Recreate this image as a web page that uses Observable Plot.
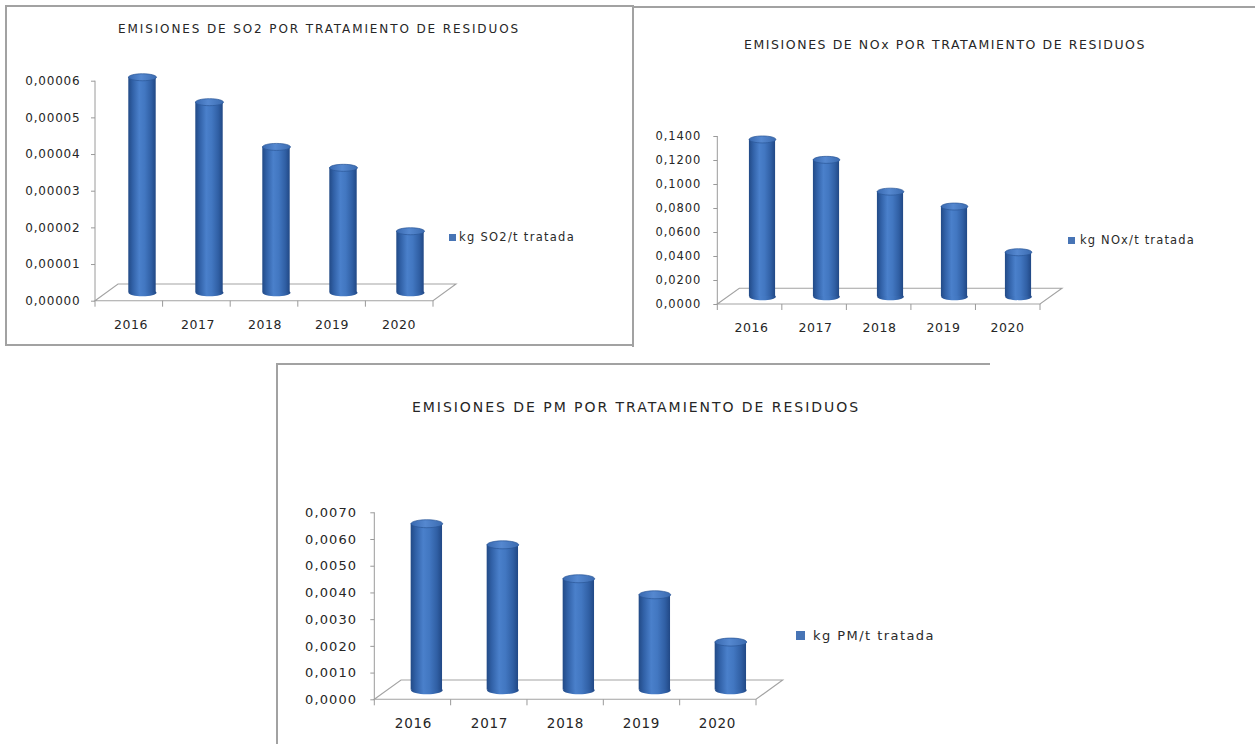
<!DOCTYPE html>
<html>
<head>
<meta charset="utf-8">
<script src="https://cdn.jsdelivr.net/npm/d3@7"></script>
<script src="https://cdn.jsdelivr.net/npm/@observablehq/plot@0.6"></script>
<style>
html, body { margin: 0; padding: 0; background: #fff; }
body { width: 1255px; height: 744px; position: relative; overflow: hidden; font-family: "DejaVu Sans", sans-serif; }
.frame { position: absolute; box-sizing: border-box; background: #fff; }
.title { position: absolute; white-space: nowrap; font-family: "DejaVu Sans", sans-serif; color: #262626; line-height: 1; }
.ltext { position: absolute; white-space: nowrap; font-family: "DejaVu Sans", sans-serif; color: #2a2a2a; line-height: 1; }
.sw { position: absolute; background: #4774b5; }
</style>
</head>
<body>
<script>
// ---------- data ----------
const years = ["2016", "2017", "2018", "2019", "2020"];

const so2Values = [0.0000588, 0.0000520, 0.0000398, 0.0000341, 0.0000168];
const noxValues = [0.1310, 0.1140, 0.0875, 0.0751, 0.0370];
const pmValues  = [0.00623, 0.00544, 0.00417, 0.00357, 0.00180];

const so2Ticks = [0, 0.00001, 0.00002, 0.00003, 0.00004, 0.00005, 0.00006];
const noxTicks = [0, 0.02, 0.04, 0.06, 0.08, 0.10, 0.12, 0.14];
const pmTicks  = [0, 0.001, 0.002, 0.003, 0.004, 0.005, 0.006, 0.007];

const so2Title = "EMISIONES DE SO2 POR TRATAMIENTO DE RESIDUOS";
const noxTitle = "EMISIONES DE NOx POR TRATAMIENTO DE RESIDUOS";
const pmTitle  = "EMISIONES DE PM POR TRATAMIENTO DE RESIDUOS";

const so2Legend = "kg SO2/t tratada";
const noxLegend = "kg NOx/t tratada";
const pmLegend  = "kg PM/t tratada";

// ---------- layout / style ----------
const charts = [
  {
    id: "c1", values: so2Values, ticks: so2Ticks, decimals: 5, title: so2Title, legend: so2Legend,
    frame: {left: 5, top: 5, width: 629, height: 341, sides: "all"},
    svg: {left: 8, top: 8, width: 624, height: 336, ml: 87, mr: 199, mt: 72.7, mb: 43.3},
    depth: {dx: 23, dy: -16.7}, barWidth: 28, ry: 3.5,
    tickFont: 12, tickLS: 0.8, tickPadding: 11,
    yearFont: 12.5, yearLS: 0.6, yearPadding: 19,
    titleBox: {left: 118, cy: 29, width: 402, font: 12},
    legendBox: {sx: 449, sy: 234, s: 7, tx: 459, cy: 238, width: 116, font: 11.5}
  },
  {
    id: "c2", values: noxValues, ticks: noxTicks, decimals: 4, title: noxTitle, legend: noxLegend,
    frame: {left: 632, top: 6, width: 640, height: 341, sides: "tl"},
    svg: {left: 634, top: 9, width: 621, height: 335, ml: 83.3, mr: 215, mt: 127, mb: 40},
    depth: {dx: 22, dy: -15.7}, barWidth: 26.7, ry: 3.5,
    tickFont: 11.5, tickLS: 0.9, tickPadding: 12.6,
    yearFont: 12.5, yearLS: 0.6, yearPadding: 19,
    titleBox: {left: 744, cy: 45, width: 402, font: 12.5},
    legendBox: {sx: 1068, sy: 237, s: 7.3, tx: 1080, cy: 241, width: 115, font: 11.5}
  },
  {
    id: "c3", values: pmValues, ticks: pmTicks, decimals: 4, title: pmTitle, legend: pmLegend,
    frame: {left: 276, top: 363, width: 714, height: 400, sides: "tl"},
    svg: {left: 279, top: 365, width: 711, height: 379, ml: 95.3, mr: 234, mt: 147.3, mb: 44.7},
    depth: {dx: 26.7, dy: -19.3}, barWidth: 31.7, ry: 4,
    tickFont: 13, tickLS: 1.1, tickPadding: 13.6,
    yearFont: 13.5, yearLS: 0.75, yearPadding: 18.7,
    titleBox: {left: 412, cy: 406.7, width: 448, font: 14},
    legendBox: {sx: 796, sy: 631, s: 8.5, tx: 813, cy: 635, width: 122, font: 13}
  }
];

// ---------- helpers ----------
function ellipseSymbol(rx, ry) {
  const k = 0.5523;
  return {
    draw(c) {
      c.moveTo(rx, 0);
      c.bezierCurveTo(rx, k * ry, k * rx, ry, 0, ry);
      c.bezierCurveTo(-k * rx, ry, -rx, k * ry, -rx, 0);
      c.bezierCurveTo(-rx, -k * ry, -k * rx, -ry, 0, -ry);
      c.bezierCurveTo(k * rx, -ry, rx, -k * ry, rx, 0);
      c.closePath();
    }
  };
}

function defsMark(id) {
  return () => {
    const defs = d3.create("svg:defs");
    const side = defs.append("linearGradient").attr("id", id).attr("x1", 0).attr("x2", 1).attr("y1", 0).attr("y2", 0);
    [[0, "#224a86"], [0.16, "#3161a7"], [0.4, "#4a80cb"], [0.6, "#4277c1"], [0.84, "#305fa4"], [1, "#214885"]]
      .forEach(([o, c]) => side.append("stop").attr("offset", o).attr("stop-color", c));
    const top = defs.append("linearGradient").attr("id", id + "t").attr("x1", 0).attr("x2", 1).attr("y1", 0).attr("y2", 0);
    [[0, "#3969b0"], [0.45, "#5588d0"], [1, "#3b6bb0"]]
      .forEach(([o, c]) => top.append("stop").attr("offset", o).attr("stop-color", c));
    return defs.node();
  };
}

function floorMark(cfg) {
  return (index, scales, values, dims) => {
    const {width, height, marginLeft, marginRight, marginBottom, marginTop} = dims;
    const x0 = marginLeft, x1 = width - marginRight;
    const y0 = height - marginBottom, yTop = marginTop;
    const {dx, dy} = cfg.depth;
    const g = d3.create("svg:g").attr("fill", "none");
    g.append("path")
      .attr("stroke", "#a3a3a3").attr("stroke-width", 1.1)
      .attr("d", `M${x0},${y0}L${x0 + dx},${y0 + dy}L${x1 + dx},${y0 + dy}L${x1},${y0}Z`);
    g.append("line").attr("stroke", "#9a9a9a")
      .attr("x1", x0).attr("x2", x0).attr("y1", y0).attr("y2", yTop);
    const n = years.length, step = (x1 - x0) / n;
    for (let i = 0; i <= n; i++) {
      g.append("line").attr("stroke", "#9a9a9a")
        .attr("x1", x0 + i * step).attr("x2", x0 + i * step)
        .attr("y1", y0).attr("y2", y0 + 6);
    }
    return g.node();
  };
}

function makeChart(cfg) {
  const data = years.map((year, i) => ({year, value: cfg.values[i]}));
  const s = cfg.svg;
  const step = (s.width - s.ml - s.mr) / years.length;
  const inset = (step - cfg.barWidth) / 2;
  const hx = cfg.depth.dx / 2, hy = cfg.depth.dy / 2;
  const sym = ellipseSymbol(cfg.barWidth / 2, cfg.ry);
  const fmt = d => d.toFixed(cfg.decimals).replace(".", ",");

  const plot = Plot.plot({
    width: s.width, height: s.height,
    marginLeft: s.ml, marginRight: s.mr, marginTop: s.mt, marginBottom: s.mb,
    style: {background: "transparent", fontFamily: "DejaVu Sans", overflow: "visible"},
    x: {type: "band", domain: years, padding: 0, label: null},
    y: {domain: [0, cfg.ticks[cfg.ticks.length - 1]], label: null},
    marks: [
      defsMark(cfg.id),
      floorMark(cfg),
      Plot.axisY({ticks: cfg.ticks, tickFormat: fmt, tickSize: 4, tickPadding: cfg.tickPadding,
                  stroke: "#9a9a9a", fill: "#262626", fontSize: cfg.tickFont, label: null}),
      Plot.axisX({tickSize: 0, tickPadding: cfg.yearPadding, fill: "#262626", fontSize: cfg.yearFont, label: null}),
      Plot.dot(data, {x: "year", y: () => 0, r: 5, symbol: sym, fill: `url(#${cfg.id})`, dx: hx, dy: hy}),
      Plot.barY(data, {x: "year", y: "value", fill: `url(#${cfg.id})`, insetLeft: inset, insetRight: inset, dx: hx, dy: hy}),
      Plot.dot(data, {x: "year", y: "value", r: 5, symbol: sym, fill: `url(#${cfg.id}t)`,
                      stroke: "#2a5696", strokeWidth: 0.7, dx: hx, dy: hy})
    ]
  });
  d3.select(plot).selectAll('g[aria-label="y-axis tick label"] text').style("letter-spacing", cfg.tickLS + "px");
  d3.select(plot).selectAll('g[aria-label="x-axis tick label"] text').style("letter-spacing", cfg.yearLS + "px");
  plot.style.position = "absolute";
  plot.style.left = s.left + "px";
  plot.style.top = s.top + "px";
  return plot;
}

function fitText(el, target) {
  const w = el.getBoundingClientRect().width;
  const n = el.textContent.length;
  el.style.letterSpacing = ((target - w) / n) + "px";
}

// ---------- build ----------
for (const cfg of charts) {
  const f = document.createElement("div");
  f.className = "frame";
  f.style.left = cfg.frame.left + "px";
  f.style.top = cfg.frame.top + "px";
  f.style.width = cfg.frame.width + "px";
  f.style.height = cfg.frame.height + "px";
  const b = "2px solid #a2a2a2";
  f.style.borderTop = b;
  f.style.borderLeft = b;
  if (cfg.frame.sides === "all") { f.style.borderRight = b; f.style.borderBottom = b; }
  document.body.appendChild(f);
}
for (const cfg of charts) {
  document.body.appendChild(makeChart(cfg));

  const t = document.createElement("div");
  t.className = "title";
  t.textContent = cfg.title;
  t.style.fontSize = cfg.titleBox.font + "px";
  t.style.left = cfg.titleBox.left + "px";
  t.style.top = (cfg.titleBox.cy - 0.48 * cfg.titleBox.font) + "px";
  document.body.appendChild(t);
  fitText(t, cfg.titleBox.width);

  const L = cfg.legendBox;
  const sw = document.createElement("div");
  sw.className = "sw";
  sw.style.left = L.sx + "px"; sw.style.top = L.sy + "px";
  sw.style.width = L.s + "px"; sw.style.height = L.s + "px";
  document.body.appendChild(sw);

  const lt = document.createElement("div");
  lt.className = "ltext";
  lt.textContent = cfg.legend;
  lt.style.fontSize = L.font + "px";
  lt.style.left = L.tx + "px";
  lt.style.top = (L.cy - 0.48 * L.font) + "px";
  document.body.appendChild(lt);
  fitText(lt, L.width);
}
</script>
</body>
</html>
